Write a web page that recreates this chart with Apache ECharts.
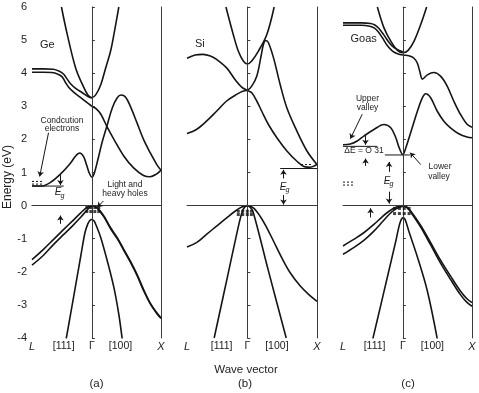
<!DOCTYPE html>
<html><head><meta charset="utf-8">
<script src="https://cdn.jsdelivr.net/npm/echarts@6/dist/echarts.min.js"></script>
<style>html,body{margin:0;padding:0;background:#fff}#c{width:479px;height:393px}</style>
</head><body><div id="c"></div>
<script>
// ---------- axes / ticks ----------
const kL = -0.866, kX = 1;
const eMin = -4, eMax = 6, eStep = 1;
const xTickNames = ['L', '[111]', 'Γ', '[100]', 'X'];
const geTickPos = [-0.866, -0.407, 0, 0.414, 1];
const siTickPos = [-0.866, -0.369, 0, 0.424, 1];
const gaTickPos = [-0.866, -0.409, 0, 0.426, 1];
const panelLetters = ['(a)', '(b)', '(c)'];
const panelNames = ['Ge', 'Si', 'Goas'];

// ---------- Ge (a) ----------
const geParabola = [[-0.44,6.0],[-0.357,5.18],[-0.235,4.16],[-0.137,3.66],[-0.06,3.35],[0,3.26],[0.06,3.36],[0.13,3.66],[0.2,4.16],[0.271,4.67],[0.319,5.17],[0.39,6.0]];
const geDoubleUpper = [[-0.866,4.13],[-0.7,4.13],[-0.56,4.12],[-0.47,4.06],[-0.407,3.97],[-0.357,3.82],[-0.308,3.68],[-0.235,3.54],[-0.137,3.41],[-0.04,3.28],[0,3.26]];
const geDoubleLower = [[-0.866,4.03],[-0.7,4.03],[-0.58,4.02],[-0.49,3.97],[-0.43,3.89],[-0.382,3.72],[-0.333,3.57],[-0.26,3.42],[-0.161,3.26],[-0.063,3.1],[0,3.0],[0.06,2.93],[0.13,2.76],[0.224,2.36],[0.319,2.0],[0.461,1.5],[0.604,1.14],[0.747,0.91],[0.843,0.87],[0.939,0.96],[1.0,1.07]];
const geConduction = [[-0.866,0.59],[-0.73,0.59],[-0.6,0.7],[-0.455,0.95],[-0.31,1.28],[-0.235,1.5],[-0.176,1.59],[-0.12,1.48],[-0.075,1.22],[-0.035,0.97],[0,0.86],[0.035,0.98],[0.081,1.34],[0.153,1.95],[0.224,2.45],[0.295,2.95],[0.367,3.26],[0.424,3.34],[0.486,3.28],[0.557,3.0],[0.653,2.5],[0.747,2.0],[0.843,1.6],[0.939,1.24],[1.0,1.07]];
const geHoleLeftA = [[-0.866,-1.63],[-0.7,-1.32],[-0.553,-1.02],[-0.407,-0.72],[-0.283,-0.47],[-0.161,-0.22],[-0.08,-0.07],[0,0]];
const geHoleLeftB = [[-0.866,-1.8],[-0.7,-1.5],[-0.553,-1.17],[-0.407,-0.87],[-0.283,-0.62],[-0.161,-0.35],[-0.088,-0.18],[-0.03,-0.05],[0,0]];
const geHoleRightA = [[0,0],[0.04,-0.02],[0.081,-0.07],[0.176,-0.32],[0.271,-0.67],[0.367,-0.97],[0.461,-1.32],[0.557,-1.68],[0.653,-2.08],[0.747,-2.53],[0.843,-2.94],[0.939,-3.24],[1.0,-3.39]];
const geHoleRightB = [[0,0],[0.04,-0.03],[0.081,-0.09],[0.176,-0.35],[0.271,-0.7],[0.367,-1.0],[0.461,-1.35],[0.557,-1.71],[0.653,-2.11],[0.747,-2.56],[0.843,-2.96],[0.939,-3.26],[1.0,-3.41]];
const geSplitOff = [[-0.371,-4.02],[-0.308,-3.28],[-0.235,-2.41],[-0.161,-1.53],[-0.1,-0.82],[-0.06,-0.56],[-0.03,-0.45],[0,-0.42],[0.03,-0.46],[0.057,-0.57],[0.129,-0.97],[0.224,-1.68],[0.319,-2.48],[0.39,-3.29],[0.438,-4.02]];
const geGapLine = [[-0.866,0.59],[-0.407,0.59]];
const geDashTop = [[-0.866,0.73],[-0.72,0.73]];
const geDashBottom = [[-0.866,0.65],[-0.72,0.65]];
const geDots = [[-0.073,-0.06],[-0.015,-0.06],[0.043,-0.06],[0.1,-0.06],[-0.073,-0.18],[-0.015,-0.18],[0.043,-0.18],[0.1,-0.18]];
const geArrows = [[[-0.627,2.2],[-0.755,0.88]],[[-0.455,0.92],[-0.455,0.62]],[[-0.455,-0.55],[-0.455,-0.3]],[[0.167,0.14],[0.08,-0.05]]];

// ---------- Si (b) ----------
const siParabola = [[-0.307,6.0],[-0.202,5.17],[-0.13,4.67],[-0.058,4.37],[0,4.28],[0.063,4.37],[0.159,4.67],[0.28,5.17],[0.385,6.0]];
const siBandA = [[-0.866,4.45],[-0.75,4.55],[-0.635,4.57],[-0.53,4.52],[-0.442,4.42],[-0.297,4.16],[-0.177,3.81],[-0.081,3.58],[0,3.48],[0.063,3.41],[0.135,3.16],[0.207,2.85],[0.303,2.45],[0.424,2.05],[0.568,1.65],[0.712,1.34],[0.831,1.17],[0.903,1.16],[1.0,1.24]];
const siBandB = [[-0.866,2.18],[-0.73,2.3],[-0.586,2.55],[-0.442,2.85],[-0.297,3.16],[-0.153,3.36],[-0.058,3.46],[0,3.48],[0.063,3.61],[0.135,3.91],[0.193,4.47],[0.231,4.87],[0.265,4.99],[0.303,4.92],[0.375,4.47],[0.471,3.66],[0.568,2.95],[0.712,2.25],[0.856,1.65],[1.0,1.24]];
const siHoleLeft = [[-0.866,-1.25],[-0.73,-1.12],[-0.586,-0.87],[-0.442,-0.62],[-0.297,-0.37],[-0.177,-0.17],[-0.081,-0.045],[0,0]];
const siHoleRight = [[0,0],[0.086,-0.07],[0.183,-0.32],[0.28,-0.67],[0.375,-1.07],[0.495,-1.58],[0.615,-2.03],[0.76,-2.43],[0.879,-2.68],[1.0,-2.89]];
const siSplitOff = [[-0.476,-4.0],[-0.28,-2.1],[-0.12,-0.55],[-0.07,-0.16],[-0.035,-0.04],[0,0],[0.035,-0.04],[0.08,-0.17],[0.3,-1.95],[0.558,-4.0]];
const siGapLine = [[0.471,1.12],[1.0,1.12]];
const siDash = [[0.77,1.24],[0.93,1.24]];
const siDots = [[-0.13,-0.17],[-0.066,-0.17],[0,-0.17],[0.058,-0.17],[-0.13,-0.27],[-0.066,-0.27],[0,-0.27],[0.058,-0.27]];
const siArrows = [[[0.519,0.82],[0.519,1.08]],[[0.519,0.32],[0.519,0.03]]];

// ---------- GaAs (c) ----------
const gaParabola = [[-0.369,6.0],[-0.273,5.37],[-0.175,4.97],[-0.077,4.69],[0,4.62],[0.076,4.69],[0.162,4.97],[0.258,5.47],[0.344,6.0]];
const gaDoubleUpper = [[-0.866,5.52],[-0.6,5.52],[-0.467,5.5],[-0.4,5.45],[-0.346,5.35],[-0.273,5.15],[-0.2,4.93],[-0.127,4.77],[-0.054,4.69],[0,4.65]];
const gaDoubleLower = [[-0.866,5.45],[-0.6,5.45],[-0.48,5.42],[-0.41,5.36],[-0.36,5.26],[-0.296,5.07],[-0.223,4.83],[-0.15,4.67],[-0.077,4.59],[0,4.55],[0.086,4.53],[0.158,4.46],[0.21,4.3],[0.244,4.06],[0.283,3.82],[0.354,3.95],[0.449,4.02],[0.545,3.91],[0.641,3.61],[0.736,3.16],[0.832,2.76],[0.928,2.46],[1.0,2.37]];
const gaConduction = [[-0.866,1.84],[-0.76,1.86],[-0.661,1.95],[-0.565,2.1],[-0.419,2.3],[-0.273,2.45],[-0.175,2.35],[-0.102,2.05],[-0.054,1.75],[0,1.54],[0.043,1.75],[0.09,2.05],[0.139,2.38],[0.21,2.85],[0.283,3.26],[0.33,3.38],[0.402,3.26],[0.498,2.85],[0.593,2.55],[0.689,2.35],[0.808,2.17],[0.928,2.07],[1.0,2.05]];
const gaHoleLeftA = [[-0.866,-1.22],[-0.711,-1.02],[-0.565,-0.82],[-0.419,-0.57],[-0.296,-0.33],[-0.2,-0.17],[-0.1,-0.05],[0,0]];
const gaHoleLeftB = [[-0.866,-1.47],[-0.711,-1.27],[-0.565,-1.05],[-0.419,-0.77],[-0.296,-0.49],[-0.2,-0.27],[-0.1,-0.1],[0,-0.02]];
const gaHoleRightA = [[0,0],[0.06,-0.05],[0.115,-0.17],[0.258,-0.6],[0.402,-1.12],[0.545,-1.65],[0.689,-2.13],[0.832,-2.58],[0.92,-2.8],[1.0,-2.93]];
const gaHoleRightB = [[0,0],[0.06,-0.06],[0.115,-0.2],[0.258,-0.65],[0.402,-1.19],[0.545,-1.74],[0.689,-2.23],[0.832,-2.69],[0.92,-2.91],[1.0,-3.04]];
const gaSplitOff = [[-0.434,-4.02],[-0.321,-3.02],[-0.223,-2.15],[-0.102,-1.07],[-0.069,-0.75],[-0.035,-0.48],[0,-0.37],[0.03,-0.41],[0.09,-0.8],[0.21,-1.55],[0.354,-2.58],[0.497,-4.02]];
const gaUpperValleyLine = [[-0.866,1.79],[-0.369,1.79]];
const gaLowerValleyLine = [[-0.26,1.53],[0.1,1.53]];
const gaDashTop = [[-0.866,0.71],[-0.711,0.71]];
const gaDashBottom = [[-0.866,0.62],[-0.711,0.62]];
const gaDots = [[-0.12,-0.085],[-0.05,-0.085],[0.02,-0.085],[0.09,-0.085],[-0.12,-0.24],[-0.05,-0.24],[0.02,-0.24],[0.09,-0.24]];
const gaArrows = [[[-0.588,2.76],[-0.759,2.02]],[[-0.54,2.12],[-0.54,1.84]],[[-0.54,1.2],[-0.54,1.42]],[[-0.2,1.02],[-0.2,1.32]],[[-0.2,0.42],[-0.2,0.06]],[[0.258,1.24],[0.105,1.6]],[[-0.467,-0.36],[-0.467,-0.08]]];

// ---------- build ----------
const FONT = '"Liberation Sans", Arial, Helvetica, sans-serif';
const INK = '#151515', AX = '#3a3a3a', TXT = '#222';
const grids = [
  {left: 32, top: 7, width: 129, height: 331},
  {left: 187, top: 7, width: 130, height: 331},
  {left: 343, top: 7, width: 129, height: 331}
];
const tickSets = [geTickPos, siTickPos, gaTickPos];

function nameFor(gi, v) {
  const arr = tickSets[gi];
  let best = 0;
  for (let i = 1; i < arr.length; i++) if (Math.abs(arr[i] - v) < Math.abs(arr[best] - v)) best = i;
  const n = xTickNames[best];
  return (n === 'L' || n === 'X') ? '{i|' + n + '}' : n;
}

const xAxes = grids.map((g, gi) => ({
  gridIndex: gi, type: 'value', min: kL, max: kX,
  axisLine: {show: true, lineStyle: {color: AX, width: 1}},
  axisTick: {show: false}, splitLine: {show: false},
  axisLabel: {
    customValues: tickSets[gi], margin: 3, fontSize: 10.5, fontFamily: FONT, color: TXT,
    formatter: v => nameFor(gi, v),
    rich: {i: {fontStyle: 'italic', fontSize: 11, fontFamily: FONT, color: TXT}}
  }
}));
const yAxesLeft = grids.map((g, gi) => ({
  gridIndex: gi, type: 'value', min: eMin, max: eMax, interval: eStep,
  axisLine: {show: true, lineStyle: {color: AX, width: 1}},
  axisTick: {show: true, inside: true, length: 3, lineStyle: {color: AX}},
  splitLine: {show: false},
  axisLabel: {show: gi === 0, margin: 5, fontSize: 11, fontFamily: FONT, color: TXT}
}));
const yAxesRight = grids.map((g, gi) => ({
  gridIndex: gi, type: 'value', min: eMin, max: eMax, position: 'right',
  axisLine: {show: true, lineStyle: {color: AX, width: 1}},
  axisTick: {show: false}, axisLabel: {show: false}, splitLine: {show: false}
}));

function curve(gi, data) {
  return {type: 'line', xAxisIndex: gi, yAxisIndex: gi, data, symbol: 'none', smooth: 0.35,
    lineStyle: {color: INK, width: 1.6}, silent: true, z: 3};
}
function straight(gi, data, dashed) {
  return {type: 'line', xAxisIndex: gi, yAxisIndex: gi, data, symbol: 'none', smooth: false,
    lineStyle: {color: INK, width: 1, type: dashed ? [2, 2] : 'solid'}, silent: true, z: 3};
}
function dots(gi, data) {
  return {type: 'scatter', xAxisIndex: gi, yAxisIndex: gi, data, symbol: 'rect', symbolSize: 3,
    itemStyle: {color: '#111'}, silent: true, z: 5};
}
function frame(gi) {
  return {type: 'line', xAxisIndex: gi, yAxisIndex: gi, data: [], symbol: 'none', silent: true,
    markLine: {silent: true, animation: false, symbol: ['none', 'none'], label: {show: false},
      lineStyle: {color: AX, width: 1, type: 'solid'},
      data: [{xAxis: 0}, {yAxis: 0}]}
  };
}
function arrowSeries(gi, arrows) {
  return {type: 'line', xAxisIndex: gi, yAxisIndex: gi, data: [], symbol: 'none', silent: true,
    markLine: {silent: true, animation: false, symbol: ['none', 'arrow'], symbolSize: 5, label: {show: false},
      lineStyle: {color: INK, width: 1, type: 'solid'},
      data: arrows.map(a => [{coord: a[0]}, {coord: a[1]}])}
  };
}

const series = [
  frame(0), frame(1), frame(2),
  curve(0, geParabola), curve(0, geDoubleUpper), curve(0, geDoubleLower), curve(0, geConduction),
  curve(0, geHoleLeftA), curve(0, geHoleLeftB), curve(0, geHoleRightA), curve(0, geHoleRightB), curve(0, geSplitOff),
  straight(0, geGapLine), straight(0, geDashTop, true), straight(0, geDashBottom, true), dots(0, geDots), arrowSeries(0, geArrows),
  curve(1, siParabola), curve(1, siBandA), curve(1, siBandB), curve(1, siHoleLeft), curve(1, siHoleRight), curve(1, siSplitOff),
  straight(1, siGapLine), straight(1, siDash, true), dots(1, siDots), arrowSeries(1, siArrows),
  curve(2, gaParabola), curve(2, gaDoubleUpper), curve(2, gaDoubleLower), curve(2, gaConduction),
  curve(2, gaHoleLeftA), curve(2, gaHoleLeftB), curve(2, gaHoleRightA), curve(2, gaHoleRightB), curve(2, gaSplitOff),
  straight(2, gaUpperValleyLine), straight(2, gaLowerValleyLine), straight(2, gaDashTop, true), straight(2, gaDashBottom, true),
  dots(2, gaDots), arrowSeries(2, gaArrows)
];

function txt(t, x, y, size, opts) {
  opts = opts || {};
  return {type: 'text', x, y, rotation: opts.rot || 0, silent: true, z: 10,
    style: {text: t, fontSize: size, fontFamily: FONT, fontStyle: opts.italic ? 'italic' : 'normal',
      fill: TXT, textAlign: opts.align || 'center', textVerticalAlign: 'middle'}};
}
const graphics = [
  txt(panelNames[0], 40, 45, 11, {align: 'left'}),
  txt('Condcution', 62, 120.5, 8.5), txt('electrons', 62, 129, 8.5),
  txt('Light and', 125, 185, 8.5), txt('heavy holes', 125, 193.5, 8.5),
  txt('E', 58, 192.5, 10, {italic: true}), txt('g', 62.5, 196, 7, {italic: true}),
  txt(panelNames[1], 195, 43.5, 11, {align: 'left'}),
  txt('E', 283, 187, 10, {italic: true}), txt('g', 287.5, 190.5, 7, {italic: true}),
  txt(panelNames[2], 350.5, 38.5, 11, {align: 'left'}),
  txt('Upper', 367.5, 99, 8.5), txt('valley', 367.5, 108, 8.5),
  txt('ΔE = O 31', 364, 151, 8.5),
  txt('Lower', 440, 167, 8.5), txt('valley', 439, 176.5, 8.5),
  txt('E', 387, 181, 10, {italic: true}), txt('g', 391.5, 184.5, 7, {italic: true}),
  txt('Energy (eV)', 8, 177, 12, {rot: Math.PI / 2}),
  txt('Wave vector', 246, 370, 11.5),
  txt(panelLetters[0], 96.5, 384, 11.5), txt(panelLetters[1], 245, 384, 11.5), txt(panelLetters[2], 408, 384, 11.5)
];

const chart = echarts.init(document.getElementById('c'), null, {renderer: 'canvas'});
chart.setOption({
  animation: false,
  backgroundColor: '#fff',
  grid: grids,
  xAxis: xAxes,
  yAxis: yAxesLeft.concat(yAxesRight),
  series,
  graphic: graphics
});
</script></body></html>
